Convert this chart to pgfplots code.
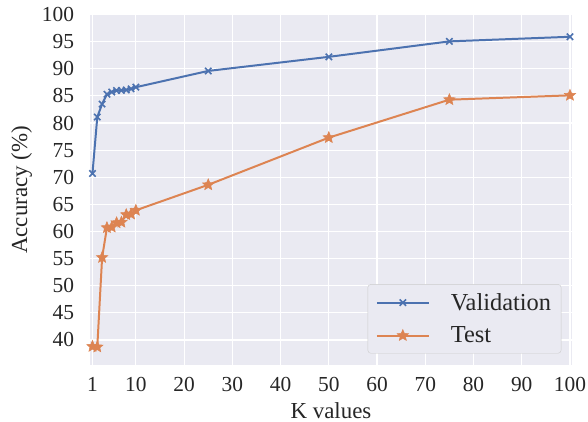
\documentclass[border=0pt]{standalone}
\usepackage{fontspec}
\setmainfont{Liberation Serif}
\usepackage{pgfplots}
\pgfplotsset{compat=1.18}
\usetikzlibrary{plotmarks}
\definecolor{sbblue}{HTML}{4C72B0}
\definecolor{sborange}{HTML}{DD8452}
\definecolor{sbbg}{HTML}{EAEAF2}
\definecolor{legframe}{HTML}{CCCCCC}

% filled five-pointed star, like matplotlib's '*'
\pgfdeclareplotmark{fstar}{%
  \pgfpathmoveto{\pgfpointpolar{90}{\pgfplotmarksize}}%
  \pgfpathlineto{\pgfpointpolar{126}{0.45\pgfplotmarksize}}%
  \pgfpathlineto{\pgfpointpolar{162}{\pgfplotmarksize}}%
  \pgfpathlineto{\pgfpointpolar{198}{0.45\pgfplotmarksize}}%
  \pgfpathlineto{\pgfpointpolar{234}{\pgfplotmarksize}}%
  \pgfpathlineto{\pgfpointpolar{270}{0.45\pgfplotmarksize}}%
  \pgfpathlineto{\pgfpointpolar{306}{\pgfplotmarksize}}%
  \pgfpathlineto{\pgfpointpolar{342}{0.45\pgfplotmarksize}}%
  \pgfpathlineto{\pgfpointpolar{18}{\pgfplotmarksize}}%
  \pgfpathlineto{\pgfpointpolar{54}{0.45\pgfplotmarksize}}%
  \pgfpathclose
  \pgfusepathqfillstroke}

\pgfplotstableread{
K   acc
1   70.7
2   81.1
3   83.5
4   85.3
5   85.7
6   86.0
7   86.0
8   86.1
9   86.3
10  86.6
25  89.6
50  92.2
75  95.05
100 95.9
}\validation

\pgfplotstableread{
K   acc
1   38.8
2   38.7
3   55.2
4   60.7
5   60.8
6   61.6
7   61.7
8   63.1
9   63.2
10  63.9
25  68.6
50  77.3
75  84.3
100 85.1
}\testset

\begin{document}
\begin{tikzpicture}
\begin{axis}[
  scale only axis,
  width=483bp, height=351bp,
  xmin=0.4, xmax=100.5, ymin=35.3, ymax=100,
  xtick={1,10,20,30,40,50,60,70,80,90,100},
  ytick={35,40,45,50,55,60,65,70,75,80,85,90,95,100},
  axis background/.style={fill=sbbg},
  axis line style={draw=none},
  major tick length=0pt,
  grid=major,
  major grid style={white, line width=1.2pt},
  /pgf/number format/assume math mode=true,
  tick label style={font=\rmfamily\fontsize{21.5}{21.5}\selectfont, text=black!85},
  label style={font=\rmfamily\fontsize{23}{23}\selectfont, text=black!85},
  xticklabel style={yshift=-8pt, inner xsep=2pt},
  yticklabel style={xshift=-12pt},
  xlabel={K values},
  ylabel={Accuracy (\%)},
  xlabel shift=4bp,
  ylabel shift=3bp,
  clip=false,
  legend cell align=left,
  legend style={
    at={(0.977,0.034)}, anchor=south east,
    fill=sbbg, draw=legframe, rounded corners=3pt,
    font=\fontsize{24.5}{24.5}\selectfont, text=black!85,
    inner xsep=8bp, inner ysep=7bp, row sep=11bp,
    /tikz/every odd column/.append style={column sep=19bp},
  },
  legend image code/.code={%
    \draw[mark repeat=2, mark phase=2] plot coordinates {(0bp,0bp) (26bp,0bp) (52bp,0bp)};
  },
]
\addplot[sbblue, line width=2pt, mark=x, mark size=4.5bp, mark options={line width=1.6pt}]
  table[x=K, y=acc] {\validation};
\addlegendentry{Validation}
\addplot[sborange, line width=2pt, mark=fstar, mark size=6bp, mark options={line width=0.5pt, fill=sborange}]
  table[x=K, y=acc] {\testset};
\addlegendentry{Test}
\end{axis}
\path ([xshift=-8bp]current bounding box.south west);
\path ([yshift=4bp]current bounding box.north east);
\end{tikzpicture}
\end{document}
